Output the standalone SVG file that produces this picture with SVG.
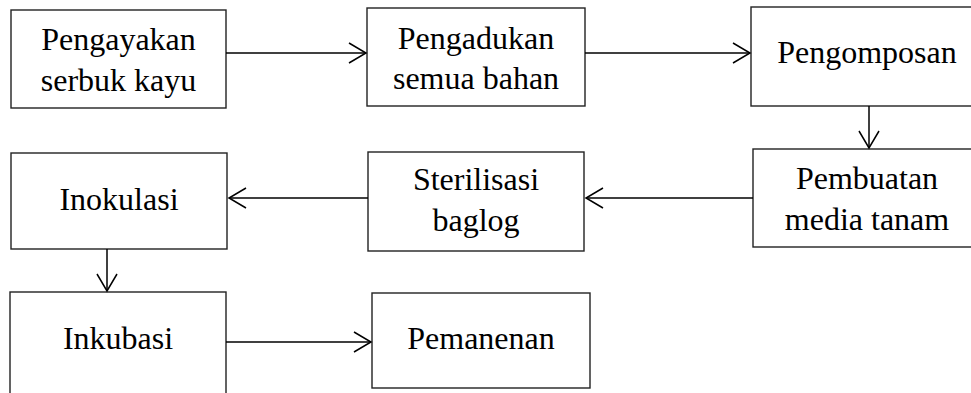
<svg xmlns="http://www.w3.org/2000/svg" width="971" height="393" viewBox="0 0 971 393">
<style>
.box{fill:#fff;stroke:#222;stroke-width:1.4}
.t{font-family:"Liberation Serif","Times New Roman",serif;font-size:32px;fill:#000;text-anchor:middle}
.c{stroke:#000;stroke-width:1.5;fill:none}
</style>
<defs>
<marker id="ah" viewBox="-18 -12 20 24" refX="0" refY="0" markerWidth="20" markerHeight="24" markerUnits="userSpaceOnUse" orient="auto">
<path d="M-17,-10 L0,0 L-17,10" fill="none" stroke="#000" stroke-width="1.5"/>
</marker>
</defs>
<rect width="971" height="393" fill="#fff"/>
<g id="n1"><rect class="box" x="11" y="10" width="215" height="98"/><text class="t" x="118.5" y="50">Pengayakan</text><text class="t" x="118.5" y="91">serbuk kayu</text></g>
<g id="n2"><rect class="box" x="367" y="8" width="218" height="98"/><text class="t" x="476" y="49">Pengadukan</text><text class="t" x="476" y="89">semua bahan</text></g>
<g id="n3"><rect class="box" x="751" y="7" width="234" height="99"/><text class="t" x="867" y="63">Pengomposan</text></g>
<g id="n4"><rect class="box" x="753" y="149" width="232" height="98"/><text class="t" x="867" y="189">Pembuatan</text><text class="t" x="867" y="230">media tanam</text></g>
<g id="n5"><rect class="box" x="368" y="152" width="216" height="99"/><text class="t" x="476" y="190">Sterilisasi</text><text class="t" x="476" y="231">baglog</text></g>
<g id="n6"><rect class="box" x="11" y="153" width="216" height="96"/><text class="t" x="119" y="210">Inokulasi</text></g>
<g id="n7"><rect class="box" x="10" y="292" width="216" height="120"/><text class="t" x="118" y="349">Inkubasi</text></g>
<g id="n8"><rect class="box" x="372" y="293" width="218" height="95"/><text class="t" x="481" y="349">Pemanenan</text></g>
<g id="connectors">
<line class="c" x1="226" y1="53" x2="366" y2="53" marker-end="url(#ah)"/>
<line class="c" x1="585" y1="53" x2="750" y2="53" marker-end="url(#ah)"/>
<line class="c" x1="869" y1="106" x2="869" y2="148" marker-end="url(#ah)"/>
<line class="c" x1="753" y1="198" x2="586" y2="198" marker-end="url(#ah)"/>
<line class="c" x1="368" y1="198" x2="229" y2="198" marker-end="url(#ah)"/>
<line class="c" x1="107" y1="249" x2="107" y2="291" marker-end="url(#ah)"/>
<line class="c" x1="226" y1="342" x2="371" y2="342" marker-end="url(#ah)"/>
</g>
</svg>
